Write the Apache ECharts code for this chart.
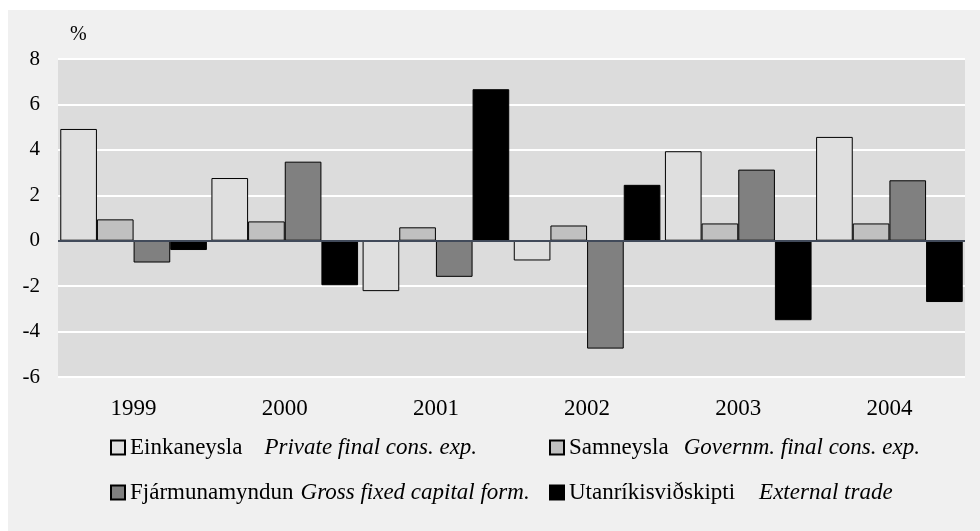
<!DOCTYPE html>
<html>
<head>
<meta charset="utf-8">
<script src="https://cdn.jsdelivr.net/npm/echarts@6/dist/echarts.min.js"></script>
<style>
  html, body { margin: 0; padding: 0; background: #ffffff; }
  #main { width: 980px; height: 531px; }
</style>
</head>
<body>
<div id="main"></div>
<script>
var years = ['1999', '2000', '2001', '2002', '2003', '2004'];
var yTicks = { min: -6, max: 8, step: 2 };

var privateCons = [4.92, 2.76, -2.22, -0.87, 3.94, 4.57];
var governCons  = [0.94, 0.85, 0.59, 0.67, 0.76, 0.76];
var grossFixed  = [-0.96, 3.48, -1.59, -4.75, 3.13, 2.66];
var external    = [-0.41, -1.96, 6.67, 2.46, -3.5, -2.7];

var seriesNames = ['Einkaneysla', 'Samneysla', 'Fjármunamyndun', 'Utanríkisviðskipti'];
var seriesEnglish = ['Private final cons. exp.', 'Governm. final cons. exp.', 'Gross fixed capital form.', 'External trade'];
var seriesColors = ['#dfdfdf', '#c0c0c0', '#808080', '#000000'];
var seriesData = [privateCons, governCons, grossFixed, external];

var serif = "'Liberation Serif', 'Times New Roman', serif";

var myChart = echarts.init(document.getElementById('main'));

var series = [];
for (var i = 0; i < seriesNames.length; i++) {
	var s = {
		name: seriesNames[i],
		type: 'bar',
		data: seriesData[i],
		barGap: '0%',
		barCategoryGap: '3%',
		itemStyle: { color: seriesColors[i], borderColor: '#000', borderWidth: 1 },
		emphasis: { disabled: true }
	};
	if (i == 0) {
		// dark zero line across the plot
		s.markLine = {
			silent: true,
			symbol: ['none', 'none'],
			label: { show: false },
			lineStyle: { color: '#414a5a', width: 2, type: 'solid' },
			z: 10,
			data: [{ yAxis: 0 }]
		};
	}
	series.push(s);
}

// one legend per item so the two columns line up like the original
var legendPos = [[110, 436], [549, 436], [110, 481], [549, 481]];
var legendGap = [22, 15, 7, 24];
var legends = [];
for (var j = 0; j < seriesNames.length; j++) {
	legends.push({
		data: [seriesNames[j]],
		left: legendPos[j][0],
		top: legendPos[j][1],
		padding: 0,
		icon: 'rect',
		itemWidth: 14,
		itemHeight: 14,
		selectedMode: false,
		formatter: (function(k) {
			return function(name) { return '{a|' + name + '}{b|' + seriesEnglish[k] + '}'; };
		})(j),
		textStyle: {
			rich: {
				a: { fontFamily: serif, fontSize: 23, color: '#000', lineHeight: 25 },
				b: { fontFamily: serif, fontSize: 23, fontStyle: 'italic', color: '#000', lineHeight: 25, padding: [0, 0, 0, legendGap[j]] }
			}
		}
	});
}

var option = {
	animation: false,
	backgroundColor: '#ffffff',
	graphic: [
		{ type: 'rect', left: 8, top: 10, shape: { width: 972, height: 521 }, style: { fill: '#f0f0f0' }, z: -10 },
		{ type: 'text', left: 70, top: 25, style: { text: '%', font: '20px ' + serif, fill: '#000' } }
	],
	grid: {
		left: 58, right: 15, top: 59, bottom: 154,
		show: true, backgroundColor: '#dcdcdc', borderWidth: 0
	},
	legend: legends,
	xAxis: {
		type: 'category',
		data: years,
		axisLine: { show: false, onZero: false },
		axisTick: { show: false },
		axisLabel: { fontFamily: serif, fontSize: 23, color: '#000', margin: 20 }
	},
	yAxis: {
		type: 'value',
		min: yTicks.min,
		max: yTicks.max,
		interval: yTicks.step,
		axisLine: { show: false },
		axisTick: { show: false },
		axisLabel: { fontFamily: serif, fontSize: 21, color: '#000', margin: 18 },
		splitLine: { lineStyle: { color: '#ffffff', width: 2 } }
	},
	series: series
};

myChart.setOption(option);
</script>
</body>
</html>
